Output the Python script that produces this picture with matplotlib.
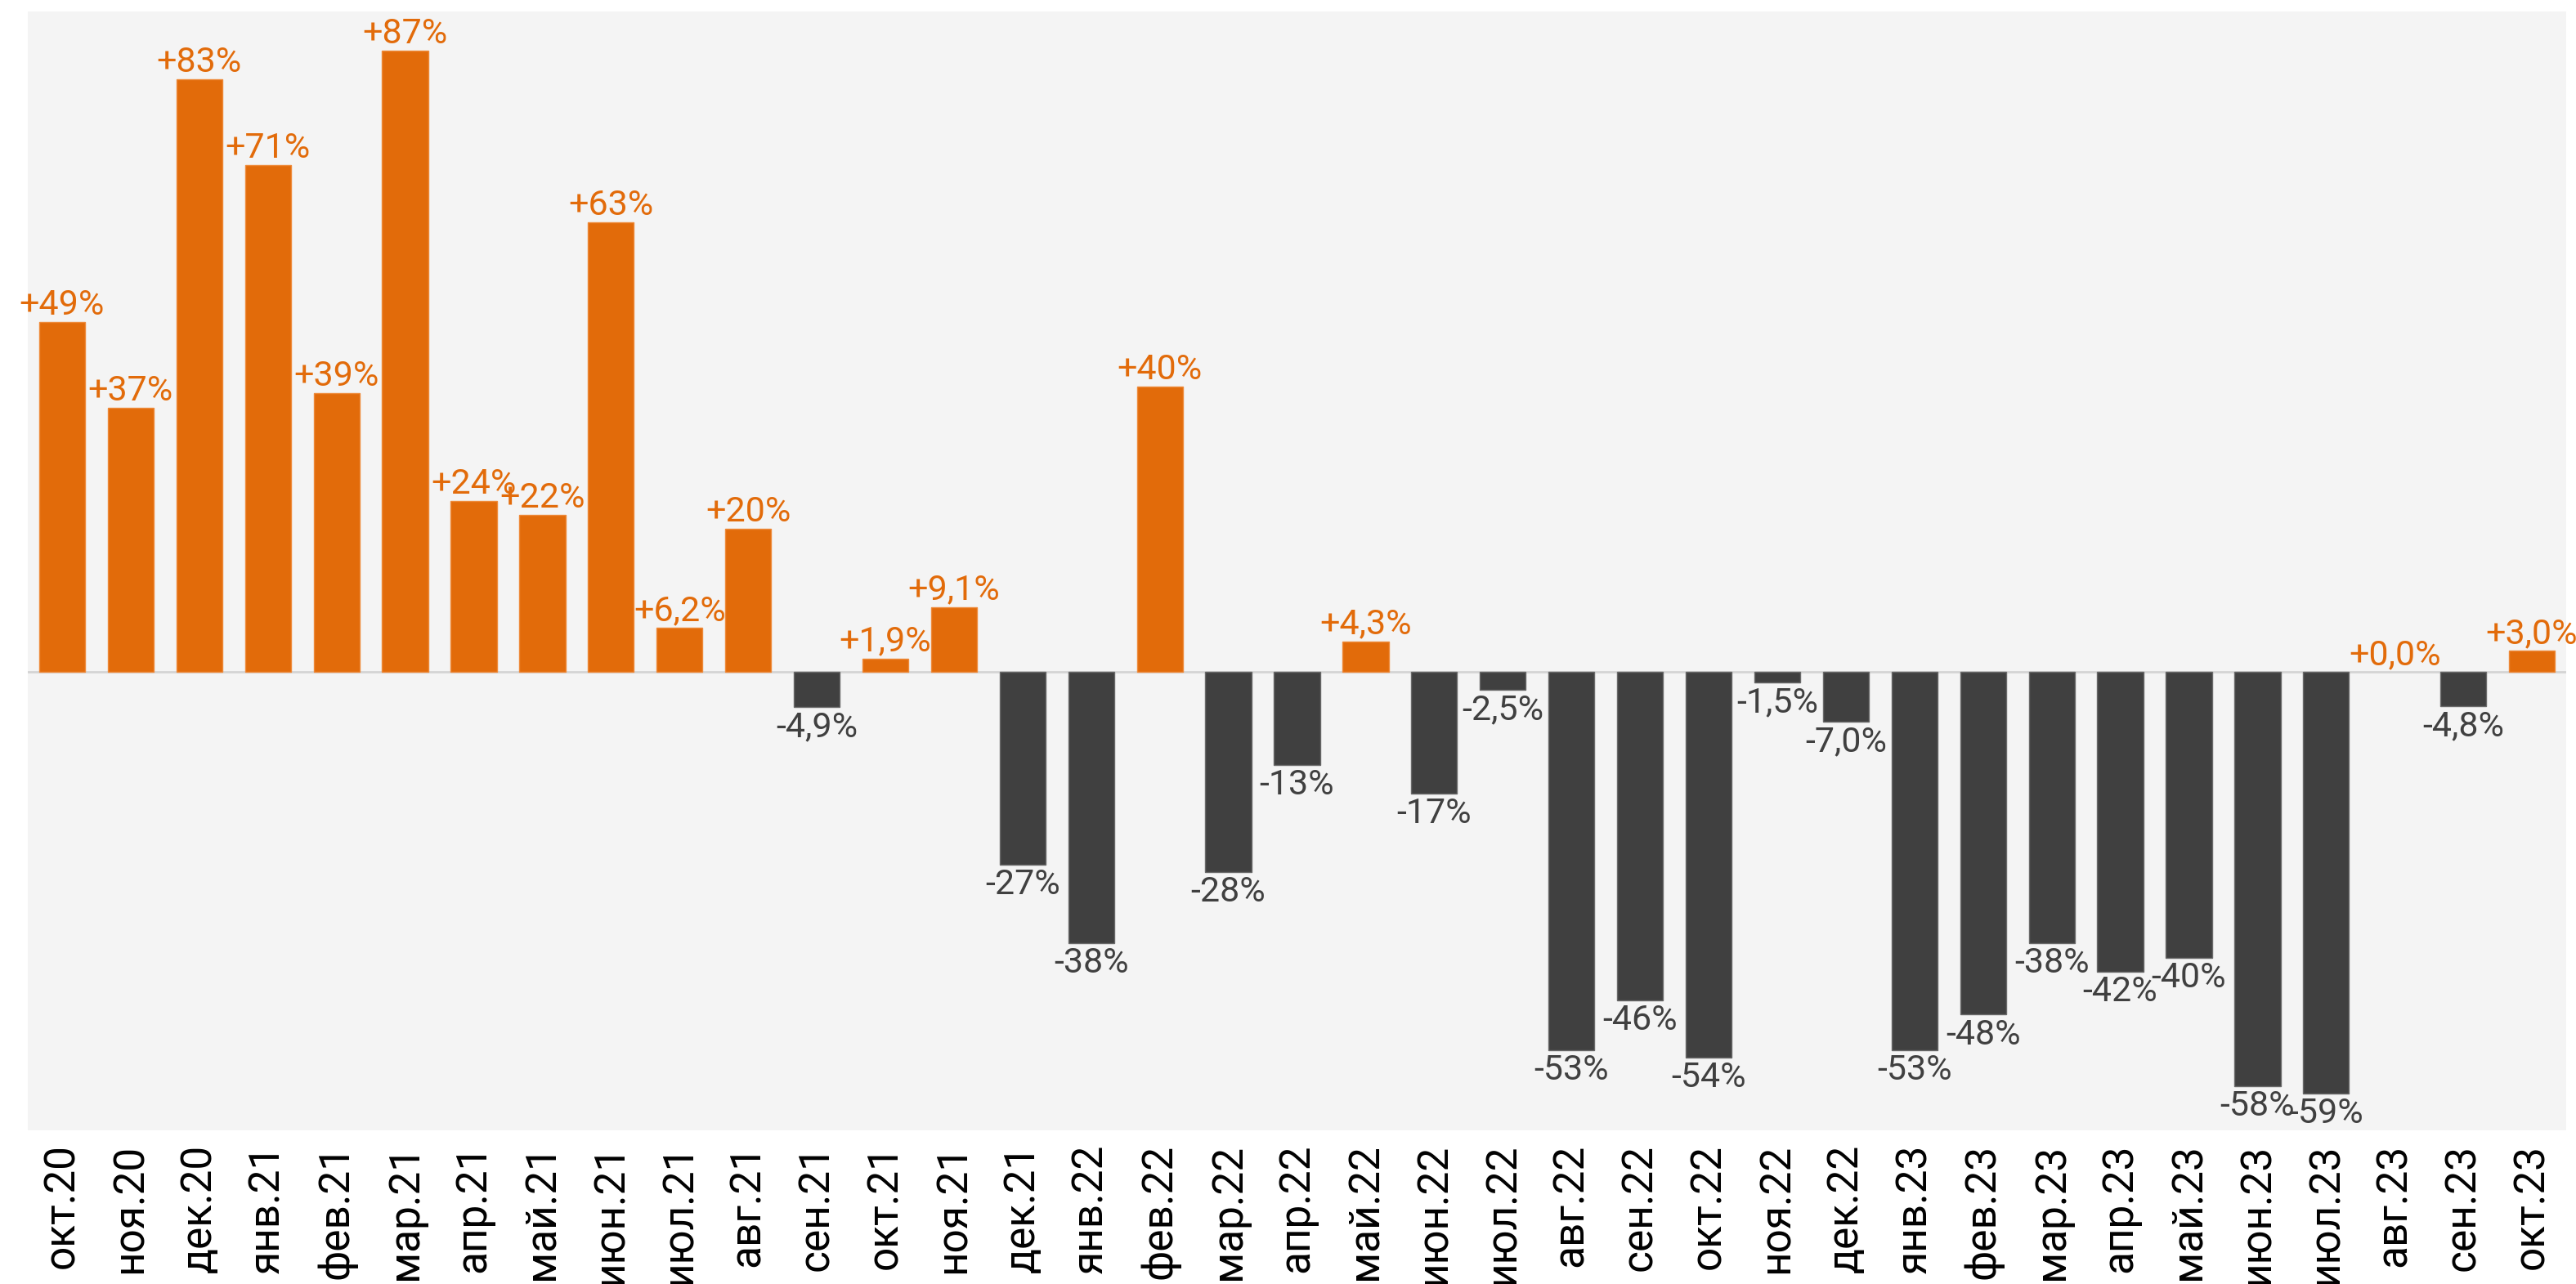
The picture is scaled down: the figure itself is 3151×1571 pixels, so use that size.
import matplotlib
matplotlib.use("Agg")
import matplotlib.pyplot as plt

# ---- data ----
months = ["окт.20", "ноя.20", "дек.20", "янв.21", "фев.21", "мар.21", "апр.21",
          "май.21", "июн.21", "июл.21", "авг.21", "сен.21", "окт.21", "ноя.21",
          "дек.21", "янв.22", "фев.22", "мар.22", "апр.22", "май.22", "июн.22",
          "июл.22", "авг.22", "сен.22", "окт.22", "ноя.22", "дек.22", "янв.23",
          "фев.23", "мар.23", "апр.23", "май.23", "июн.23", "июл.23", "авг.23",
          "сен.23", "окт.23"]
values = [49, 37, 83, 71, 39, 87, 24,
          22, 63, 6.2, 20, -4.9, 1.9, 9.1,
          -27, -38, 40, -28, -13, 4.3, -17,
          -2.5, -53, -46, -54, -1.5, -7.0, -53,
          -48, -38, -42, -40, -58, -59, 0.0,
          -4.8, 3.0]

ORANGE = "#E26B0A"
DARK = "#404040"
BG = "#F4F4F4"

plt.rcParams['font.family'] = ['Roboto', 'DejaVu Sans']

fig = plt.figure(figsize=(31.51, 15.71), dpi=100)
ax = fig.add_axes([0.0108, 0.1197, 0.9854, 0.8713])
ax.set_facecolor(BG)

x = list(range(len(months)))
colors = [ORANGE if v >= 0 else DARK for v in values]
edges = ["#EE8A3A" if v > 0 else ("#6a6a6a" if v < 0 else "none") for v in values]
ax.axhline(0, color="#D4D4D4", lw=2, zorder=1)
ax.bar(x, values, width=0.67, color=colors, edgecolor=edges, linewidth=1, zorder=2)


def fmt(v):
    sign = "+" if v >= 0 else "-"
    a = abs(v)
    body = f"{a:.0f}" if a >= 10 else f"{a:.1f}".replace(".", ",")
    return sign + body + "%"


for xi, v in zip(x, values):
    if v >= 0:
        ax.annotate(fmt(v), (xi, v), xytext=(0, 0), textcoords="offset points",
                    ha="center", va="bottom", fontsize=31, color=ORANGE, zorder=3)
    else:
        ax.annotate(fmt(v), (xi, v), xytext=(0, -3), textcoords="offset points",
                    ha="center", va="top", fontsize=31, color=DARK, zorder=3)

ax.set_xlim(-0.5, len(months) - 0.5)
ax.set_ylim(-64.2, 92.5)
ax.set_xticks(x)
ax.set_xticklabels(months, rotation=90, fontsize=37, color="black", va="top")
ax.tick_params(axis="x", length=0, pad=12)
ax.set_yticks([])
for s in ax.spines.values():
    s.set_visible(False)

fig.savefig("out.png", dpi=100, facecolor="white")
